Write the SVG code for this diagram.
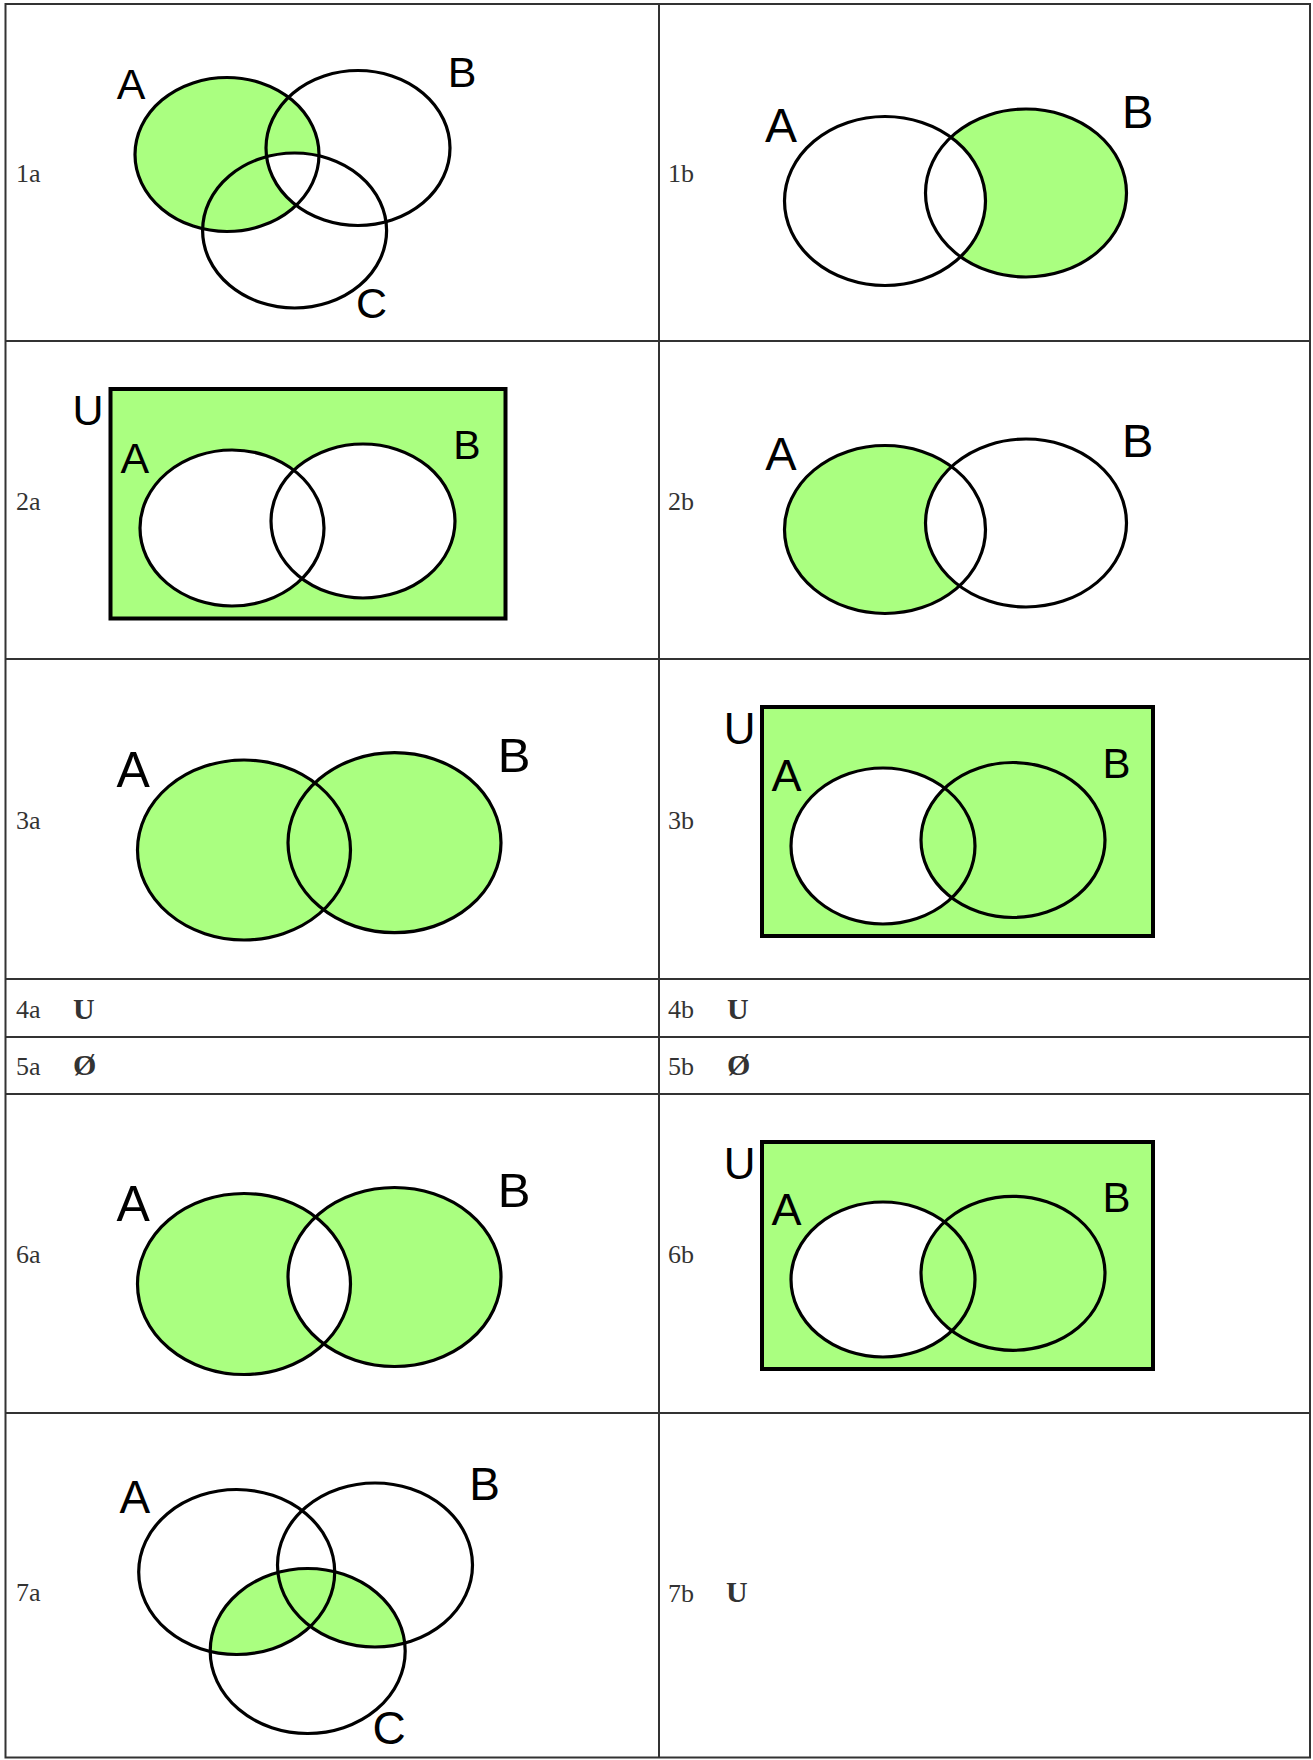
<svg xmlns="http://www.w3.org/2000/svg" width="1313" height="1760" viewBox="0 0 1313 1760">
<style>
.grid{stroke:#333;stroke-width:2;fill:none}
.o{fill:none;stroke:#000;stroke-width:3.2}
.g{fill:#aaff80}
.w{fill:#fff}
.r{fill:#aaff80;stroke:#000;stroke-width:4}
.lbl{font-family:"Liberation Sans",Arial,sans-serif;fill:#000;text-anchor:middle}
.cell{font-family:"Liberation Serif","Times New Roman",serif;font-size:26px;fill:#333}
.sym{font-family:"Liberation Serif","Times New Roman",serif;font-size:30px;font-weight:bold;fill:#333}
</style>
<defs>
<clipPath id="c1aB"><ellipse cx="358" cy="148" rx="92" ry="77.5"/></clipPath>
<clipPath id="c6aA"><ellipse cx="244" cy="1284" rx="106.5" ry="90.5"/></clipPath>
<clipPath id="c7aC"><ellipse cx="307.7" cy="1651" rx="97.5" ry="82.5"/></clipPath>
</defs>
<rect x="0" y="0" width="1313" height="1760" fill="#fff"/>

<g id="table">
<rect class="grid" x="5.5" y="4" width="1304.5" height="1753.5"/>
<line class="grid" x1="659" y1="4" x2="659" y2="1757.5"/>
<line class="grid" x1="5.5" y1="341" x2="1310" y2="341"/>
<line class="grid" x1="5.5" y1="659" x2="1310" y2="659"/>
<line class="grid" x1="5.5" y1="979" x2="1310" y2="979"/>
<line class="grid" x1="5.5" y1="1037" x2="1310" y2="1037"/>
<line class="grid" x1="5.5" y1="1094" x2="1310" y2="1094"/>
<line class="grid" x1="5.5" y1="1413" x2="1310" y2="1413"/>
</g>

<g id="cell-1a">
<text class="cell" x="16" y="182">1a</text>
<ellipse class="g" cx="227" cy="154.5" rx="92" ry="77"/>
<ellipse class="w" cx="294.6" cy="230.5" rx="92" ry="77.5" clip-path="url(#c1aB)"/>
<ellipse class="o" cx="227" cy="154.5" rx="92" ry="77"/>
<ellipse class="o" cx="358" cy="148" rx="92" ry="77.5"/>
<ellipse class="o" cx="294.6" cy="230.5" rx="92" ry="77.5"/>
<text class="lbl" x="131" y="99" font-size="43">A</text>
<text class="lbl" x="462" y="87" font-size="43">B</text>
<text class="lbl" x="371.5" y="318" font-size="43">C</text>
</g>

<g id="cell-1b">
<text class="cell" x="668" y="182">1b</text>
<ellipse class="g" cx="1026" cy="193" rx="100.5" ry="84"/>
<ellipse class="w" cx="885" cy="201" rx="100.5" ry="84.5"/>
<ellipse class="o" cx="885" cy="201" rx="100.5" ry="84.5"/>
<ellipse class="o" cx="1026" cy="193" rx="100.5" ry="84"/>
<text class="lbl" x="781" y="141.5" font-size="48">A</text>
<text class="lbl" x="1137.6" y="128" font-size="47">B</text>
</g>

<g id="cell-2a">
<text class="cell" x="16" y="510">2a</text>
<rect class="r" x="110.5" y="389" width="395" height="229.5"/>
<ellipse class="w" cx="232" cy="528" rx="92" ry="78"/>
<ellipse class="w" cx="363" cy="521" rx="92" ry="77"/>
<ellipse class="o" cx="232" cy="528" rx="92" ry="78"/>
<ellipse class="o" cx="363" cy="521" rx="92" ry="77"/>
<text class="lbl" x="88" y="425" font-size="43">U</text>
<text class="lbl" x="134.8" y="472.5" font-size="43">A</text>
<text class="lbl" x="467" y="459" font-size="41">B</text>
</g>

<g id="cell-2b">
<text class="cell" x="668" y="510">2b</text>
<ellipse class="g" cx="885" cy="529.5" rx="100.5" ry="84"/>
<ellipse class="w" cx="1026" cy="523" rx="100.5" ry="84"/>
<ellipse class="o" cx="885" cy="529.5" rx="100.5" ry="84"/>
<ellipse class="o" cx="1026" cy="523" rx="100.5" ry="84"/>
<text class="lbl" x="781" y="470" font-size="47">A</text>
<text class="lbl" x="1137.6" y="456.5" font-size="47">B</text>
</g>

<g id="cell-3a">
<text class="cell" x="16" y="829">3a</text>
<ellipse class="g" cx="244" cy="850" rx="106.5" ry="90"/>
<ellipse class="g" cx="394.5" cy="842.7" rx="106.5" ry="90"/>
<ellipse class="o" cx="244" cy="850" rx="106.5" ry="90"/>
<ellipse class="o" cx="394.5" cy="842.7" rx="106.5" ry="90"/>
<text class="lbl" x="133.3" y="786.5" font-size="50">A</text>
<text class="lbl" x="514" y="771.5" font-size="49">B</text>
</g>

<g id="cell-3b">
<text class="cell" x="668" y="829">3b</text>
<rect class="r" x="762" y="707" width="391" height="229"/>
<ellipse class="w" cx="883" cy="846" rx="92" ry="78"/>
<ellipse class="g" cx="1013" cy="840" rx="92" ry="77.5"/>
<ellipse class="o" cx="883" cy="846" rx="92" ry="78"/>
<ellipse class="o" cx="1013" cy="840" rx="92" ry="77.5"/>
<text class="lbl" x="739.6" y="743.5" font-size="44">U</text>
<text class="lbl" x="786.5" y="791" font-size="45">A</text>
<text class="lbl" x="1116.4" y="778" font-size="42">B</text>
</g>

<g id="cell-4a">
<text class="cell" x="16" y="1018">4a</text>
<text class="sym" x="73" y="1018.5">U</text>
</g>
<g id="cell-4b">
<text class="cell" x="668" y="1018">4b</text>
<text class="sym" x="727" y="1018.5">U</text>
</g>
<g id="cell-5a">
<text class="cell" x="16" y="1075">5a</text>
<text class="sym" x="73" y="1075">Ø</text>
</g>
<g id="cell-5b">
<text class="cell" x="668" y="1075">5b</text>
<text class="sym" x="727" y="1075">Ø</text>
</g>

<g id="cell-6a">
<text class="cell" x="16" y="1263">6a</text>
<ellipse class="g" cx="244" cy="1284" rx="106.5" ry="90.5"/>
<ellipse class="g" cx="394.5" cy="1277" rx="106.5" ry="89.5"/>
<ellipse class="w" cx="394.5" cy="1277" rx="106.5" ry="89.5" clip-path="url(#c6aA)"/>
<ellipse class="o" cx="244" cy="1284" rx="106.5" ry="90.5"/>
<ellipse class="o" cx="394.5" cy="1277" rx="106.5" ry="89.5"/>
<text class="lbl" x="133.3" y="1220.5" font-size="50">A</text>
<text class="lbl" x="514" y="1206.5" font-size="49">B</text>
</g>

<g id="cell-6b">
<text class="cell" x="668" y="1263">6b</text>
<rect class="r" x="762" y="1142" width="391" height="227"/>
<ellipse class="w" cx="883" cy="1279.5" rx="92" ry="77.5"/>
<ellipse class="g" cx="1013" cy="1273.3" rx="92" ry="77"/>
<ellipse class="o" cx="883" cy="1279.5" rx="92" ry="77.5"/>
<ellipse class="o" cx="1013" cy="1273.3" rx="92" ry="77"/>
<text class="lbl" x="739.6" y="1178.5" font-size="44">U</text>
<text class="lbl" x="786.5" y="1225" font-size="45">A</text>
<text class="lbl" x="1116.4" y="1211.5" font-size="42">B</text>
</g>

<g id="cell-7a">
<text class="cell" x="16" y="1601">7a</text>
<ellipse class="g" cx="236.7" cy="1572" rx="98" ry="82.5" clip-path="url(#c7aC)"/>
<ellipse class="g" cx="375" cy="1565" rx="97.5" ry="82" clip-path="url(#c7aC)"/>
<ellipse class="o" cx="236.7" cy="1572" rx="98" ry="82.5"/>
<ellipse class="o" cx="375" cy="1565" rx="97.5" ry="82"/>
<ellipse class="o" cx="307.7" cy="1651" rx="97.5" ry="82.5"/>
<text class="lbl" x="134.8" y="1513" font-size="46">A</text>
<text class="lbl" x="484.5" y="1500" font-size="46">B</text>
<text class="lbl" x="389" y="1744" font-size="46">C</text>
</g>

<g id="cell-7b">
<text class="cell" x="668" y="1601.5">7b</text>
<text class="sym" x="726" y="1602">U</text>
</g>

<g id="connectors"></g>
</svg>
